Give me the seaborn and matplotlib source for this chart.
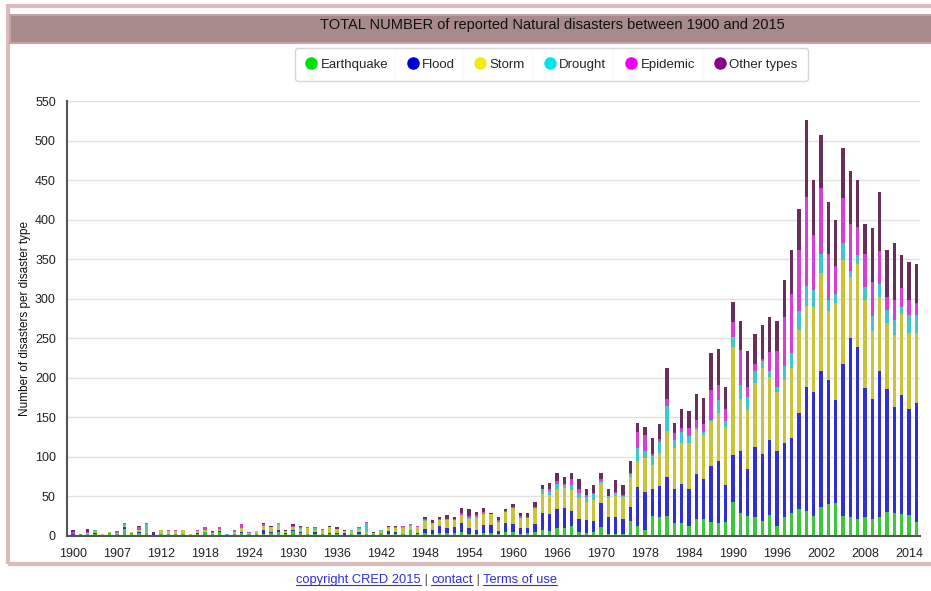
import numpy as np
import pandas as pd
import seaborn as sns
import matplotlib.pyplot as plt
from matplotlib.patches import Rectangle
from matplotlib.lines import Line2D

# Data
years = list(range(1900, 2016))
tick_labels = ['1900', '1907', '1912', '1918', '1924', '1930', '1936', '1942', '1948', '1954',
               '1960', '1966', '1970', '1978', '1984', '1990', '1996', '2002', '2008', '2014']
types = ['Earthquake', 'Flood', 'Storm', 'Drought', 'Epidemic', 'Other types']

earthquake = [1, 3, 3, 2, 1, 4, 3, 9, 4, 4, 4, 1, 3, 3, 3, 3, 1, 3, 5, 2,
              5, 1, 2, 4, 2, 2, 3, 4, 5, 3, 6, 4, 3, 3, 3, 3, 2, 1, 2, 3,
              3, 2, 4, 3, 3, 2, 7, 3, 4, 3, 4, 4, 4, 5, 3, 3, 4, 4, 3, 5,
              5, 3, 4, 5, 8, 6, 10, 10, 13, 5, 4, 5, 11, 3, 3, 3, 19, 13, 8, 25,
              24, 25, 17, 17, 13, 21, 21, 18, 17, 18, 43, 29, 25, 24, 19, 27, 13, 24, 29, 34,
              32, 25, 37, 40, 42, 25, 24, 21, 24, 22, 24, 30, 29, 28, 26, 18]
flood = [1, 0, 0, 2, 0, 0, 0, 2, 0, 1, 0, 1, 0, 0, 0, 0, 0, 1, 0, 0,
         1, 0, 1, 1, 0, 0, 4, 1, 3, 1, 1, 1, 0, 2, 0, 1, 2, 3, 1, 2,
         0, 1, 0, 3, 2, 1, 1, 1, 5, 5, 9, 6, 7, 12, 7, 4, 10, 10, 3, 11,
         10, 7, 6, 10, 21, 22, 24, 26, 19, 17, 16, 14, 31, 21, 21, 18, 18, 49, 48, 35,
         39, 50, 43, 49, 47, 58, 51, 70, 78, 46, 60, 78, 60, 89, 85, 94, 94, 94, 95, 121,
         157, 157, 172, 157, 130, 193, 226, 218, 163, 151, 184, 156, 134, 150, 134, 150]
storm = [1, 0, 1, 1, 2, 1, 1, 2, 1, 3, 1, 1, 5, 3, 3, 4, 2, 2, 2, 2,
         2, 0, 2, 5, 2, 4, 6, 7, 6, 2, 5, 4, 7, 3, 5, 7, 5, 2, 3, 4,
         2, 1, 2, 4, 5, 7, 5, 7, 10, 8, 7, 10, 9, 10, 12, 16, 14, 14, 12, 14,
         20, 13, 13, 20, 24, 24, 25, 25, 26, 26, 23, 27, 25, 24, 26, 28, 37, 33, 42, 30,
         42, 58, 51, 51, 57, 55, 56, 58, 60, 74, 136, 66, 74, 80, 109, 80, 75, 79, 89, 106,
         102, 108, 123, 88, 122, 131, 77, 105, 112, 86, 94, 83, 91, 103, 97, 89]
drought = [0, 0, 0, 2, 0, 0, 0, 2, 0, 0, 10, 0, 0, 0, 0, 0, 0, 0, 1, 0,
           1, 2, 0, 0, 0, 0, 0, 0, 3, 0, 0, 1, 0, 2, 0, 0, 0, 0, 1, 1,
           12, 0, 2, 1, 0, 1, 1, 1, 1, 0, 0, 1, 0, 0, 1, 1, 0, 0, 0, 0,
           0, 0, 0, 0, 6, 5, 7, 3, 6, 6, 6, 7, 2, 2, 4, 1, 5, 16, 9, 11,
           14, 32, 11, 14, 9, 2, 4, 1, 17, 8, 13, 18, 17, 15, 8, 7, 6, 18, 19, 23,
           25, 21, 25, 13, 12, 22, 8, 11, 16, 19, 17, 17, 19, 9, 23, 23]
epidemic = [2, 0, 1, 0, 0, 0, 2, 1, 0, 4, 1, 0, 0, 1, 1, 1, 0, 2, 3, 1,
            2, 0, 2, 5, 1, 0, 2, 0, 0, 0, 1, 1, 1, 1, 1, 1, 0, 0, 0, 1,
            1, 0, 0, 0, 1, 2, 1, 1, 1, 1, 2, 1, 2, 2, 2, 2, 2, 0, 2, 2,
            2, 2, 1, 2, 1, 3, 3, 2, 8, 5, 3, 1, 3, 1, 2, 2, 1, 21, 21, 3,
            4, 8, 8, 5, 10, 11, 10, 37, 19, 14, 19, 44, 13, 10, 3, 25, 46, 62, 74, 77,
            113, 69, 83, 59, 35, 56, 60, 36, 42, 43, 41, 16, 25, 24, 19, 14]
other = [2, 0, 4, 1, 0, 0, 0, 1, 0, 1, 1, 2, 0, 0, 0, 0, 0, 0, 0, 1,
         0, 0, 1, 0, 0, 0, 2, 1, 0, 1, 2, 2, 0, 0, 0, 1, 2, 2, 1, 1,
         0, 1, 0, 2, 2, 0, 0, 0, 3, 3, 2, 5, 2, 6, 9, 4, 6, 1, 4, 2,
         3, 4, 5, 6, 4, 7, 11, 9, 8, 13, 8, 10, 8, 8, 15, 12, 15, 11, 10, 20,
         19, 40, 13, 24, 22, 33, 32, 47, 46, 28, 25, 37, 45, 38, 43, 44, 38, 47, 56, 53,
         97, 70, 67, 65, 58, 64, 67, 59, 37, 68, 75, 59, 72, 41, 48, 50]

bar_colors = ['#3ec63e', '#2f2fd2', '#c9c43a', '#40c8c8', '#d63fd6', '#673058']
legend_colors = ['#00dd00', '#0000dd', '#eeee00', '#00e5ee', '#ee00ee', '#8b008b']

df = pd.DataFrame({'year': years, 'Earthquake': earthquake, 'Flood': flood, 'Storm': storm,
                   'Drought': drought, 'Epidemic': epidemic, 'Other types': other})

sns.set_style('white')
plt.rcParams['font.family'] = ['Liberation Sans', 'DejaVu Sans']

W, H = 931, 591
fig = plt.figure(figsize=(W / 100, H / 100), dpi=100)

# Frame and title band
fig.patches.append(Rectangle((8 / W, (H - 564) / H), (935 - 8) / W, (564 - 6) / H,
                             transform=fig.transFigure, facecolor='none',
                             edgecolor='#dbbcbc', linewidth=3, zorder=0))
fig.patches.append(Rectangle((10 / W, (H - 43) / H), (935 - 10) / W, 28 / H,
                             transform=fig.transFigure, facecolor='#a78a8a',
                             edgecolor='#c4a4a4', linewidth=1.5, zorder=1))
fig.text(552 / W, (H - 29) / H, 'TOTAL NUMBER of reported Natural disasters between 1900 and 2015',
         ha='center', va='baseline', fontsize=10.5, color='#111111')

ax = fig.add_axes([67 / W, 55 / H, 853 / W, 435 / H])

# Stacked bars
bottom = np.zeros(len(df))
for name, color in zip(types, bar_colors):
    sns.barplot(x=df['year'], y=df[name], bottom=bottom, color=color, saturation=1,
                width=0.42, linewidth=0, errorbar=None, ax=ax)
    bottom += df[name].values

ax.set_ylim(0, 550)
ax.set_xlim(-0.82, 115.5)
ax.set_yticks(range(0, 551, 50))
xt = list(range(0, 116, 3))
ax.set_xticks(xt)
ax.set_xticklabels([tick_labels[i // 6] if i % 6 == 0 else '' for i in xt])
ax.tick_params(axis='both', labelsize=9, colors='#222222', length=5, width=1, direction='out')
ax.tick_params(axis='x', color='#555555')
ax.tick_params(axis='y', color='#555555', pad=3)
ax.yaxis.grid(True, color='#e2e2e2', linewidth=1)
ax.set_axisbelow(True)
for s in ['top', 'right']:
    ax.spines[s].set_visible(False)
for s in ['left', 'bottom']:
    ax.spines[s].set_color('#555555')
    ax.spines[s].set_linewidth(1.5)
ax.set_xlabel('')
ax.set_ylabel('Number of disasters per disaster type', fontsize=8.5, color='#111111')
ax.yaxis.set_label_coords(-36 / 853, 0.5)

# Legend
handles = [Line2D([], [], marker='o', ls='', markersize=8, markerfacecolor=c, markeredgecolor=c)
           for c in legend_colors]
leg = fig.legend(handles, types, ncol=6, loc='center', bbox_to_anchor=(551.5 / W, (H - 64.5) / H),
                 frameon=True, fancybox=True, fontsize=9.5, handletextpad=0.25,
                 columnspacing=1.45, borderpad=0.75, handlelength=0.9)
leg.get_frame().set_edgecolor('#cccccc')
leg.get_frame().set_linewidth(1)

fig.canvas.draw()
r = fig.canvas.get_renderer()
texts = leg.get_texts()
mk = leg.legend_handles
lb = leg.get_window_extent(r)
for i in range(5):
    x0 = texts[i].get_window_extent(r).x1
    x1 = mk[i + 1].get_window_extent(r).x0
    xm = (x0 + x1) / 2 / W
    fig.add_artist(Line2D([xm, xm], [(lb.y0 + 2) / H, (lb.y1 - 2) / H], color='#dddddd', lw=1))

# Footer with links
parts = [('copyright CRED 2015', '#3030d8', True), (' | ', '#444444', False),
         ('contact', '#3030d8', True), (' | ', '#444444', False), ('Terms of use', '#3030d8', True)]
xpix = 296
ybase = (H - 583) / H
for txt, col, ul in parts:
    t = fig.text(xpix / W, ybase, txt, color=col, fontsize=9.3, ha='left', va='baseline')
    bb = t.get_window_extent(r)
    if ul:
        fig.add_artist(Line2D([bb.x0 / W, bb.x1 / W], [ybase - 2 / H, ybase - 2 / H], color=col, lw=0.8))
    xpix = bb.x1

fig.savefig('out.png', dpi=100)
